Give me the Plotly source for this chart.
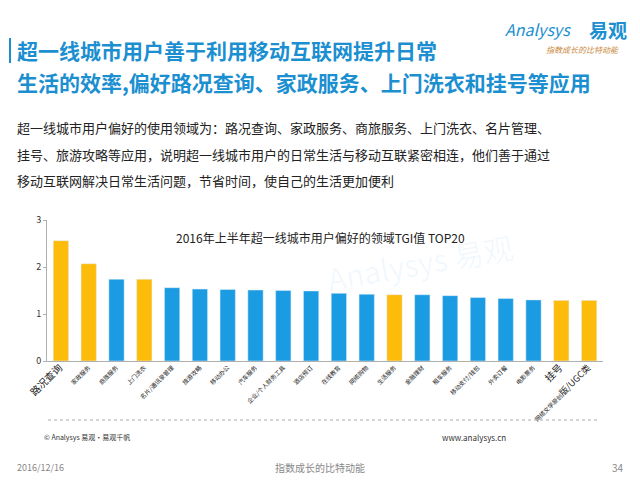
import plotly.graph_objects as go

categories = ["路况查询", "家政服务", "商旅服务", "上门洗衣", "名片/通讯录管理", "旅游攻略",
              "移动办公", "汽车服务", "企业/个人财务工具", "酒店预订", "在线教育", "网络购物",
              "生活服务", "金融理财", "租车服务", "移动支付/钱包", "外卖订餐", "电影票务",
              "挂号", "网络文学原创版/UGC类"]
values = [2.56, 2.07, 1.74, 1.74, 1.56, 1.53, 1.52, 1.51, 1.50, 1.49,
          1.44, 1.42, 1.41, 1.41, 1.39, 1.35, 1.33, 1.30, 1.29, 1.29]
highlight = [1, 1, 0, 1, 0, 0, 0, 0, 0, 0, 0, 0, 1, 0, 0, 0, 0, 0, 1, 1]
tick_labels = ['<span style="font-size:10px">路况查询</span>', "家政服务", "商旅服务", "上门洗衣",
               "名片/通讯录管理", "旅游攻略", "移动办公", "汽车服务", "企业/个人财务工具", "酒店预订",
               "在线教育", "网络购物", "生活服务", "金融理财", "租车服务", "移动支付/钱包", "外卖订餐",
               "电影票务", '<span style="font-size:10px">挂号</span>',
               '网络文学原创<span style="font-size:9px">版/UGC类</span>']
y_ticks = [0, 1, 2, 3]

YELLOW = "#FDBB0A"
BLUE = "#1A9BE2"
TITLE_BLUE = "#1C8FD0"
FONT = "Noto Sans CJK SC"

# page body has an 8px default margin; figure is placed at (8, 8)
OFF = 8
W, H = 640 - OFF, 480 - OFF
PL, PR, PT, PB = 47, 603, 220, 361  # plot area in page pixels

colors = [YELLOW if h else BLUE for h in highlight]

fig = go.Figure(go.Bar(x=categories, y=values, marker_color=colors, width=0.55))

fig.update_layout(
    width=W, height=H,
    margin=dict(l=PL - OFF, r=W - (PR - OFF), t=PT - OFF, b=H - (PB - OFF)),
    paper_bgcolor="white", plot_bgcolor="white",
    font=dict(family=FONT, color="#333"),
    showlegend=False,
)
fig.update_xaxes(
    tickmode="array", tickvals=categories, ticktext=tick_labels,
    tickangle=-45, tickfont=dict(size=6, color="#222"),
    showline=True, linecolor="#b0b0b0", linewidth=1, showgrid=False,
    ticks="", range=[-0.5, 19.5],
)
fig.update_yaxes(
    range=[0, 3], tickvals=y_ticks, showgrid=False, zeroline=False,
    showline=True, linecolor="#b0b0b0", linewidth=1,
    ticks="outside", ticklen=3, tickcolor="#b0b0b0",
    tickfont=dict(size=9, color="#333"),
)


def px(x):
    return (x - PL) / (PR - PL)


def py(y):
    return (PB - y) / (PB - PT)


def T(text, x, y, size, color, xanchor="left", bold=False, **kw):
    if bold:
        text = f"<b>{text}</b>"
    d = dict(text=text, x=px(x), y=py(y), xref="paper", yref="paper",
             xanchor=xanchor, yanchor="middle", showarrow=False,
             font=dict(family=FONT, size=size, color=color))
    d.update(kw)
    return d


ann = [
    T("超一线城市用户善于利用移动互联网提升日常", 15, 50, 21, TITLE_BLUE, bold=True),
    T("生活的效率,偏好路况查询、家政服务、上门洗衣和挂号等应用", 15, 82, 21, TITLE_BLUE, bold=True),
    T("超一线城市用户偏好的使用领域为：路况查询、家政服务、商旅服务、上门洗衣、名片管理、", 15, 128, 13, "#222"),
    T("挂号、旅游攻略等应用，说明超一线城市用户的日常生活与移动互联紧密相连，他们善于通过", 15, 154, 13, "#222"),
    T("移动互联网解决日常生活问题，节省时间，使自己的生活更加便利", 15, 180, 13, "#222"),
    T("2016年上半年超一线城市用户偏好的领域TGI值 TOP20", 320, 237, 12, "#222", xanchor="center"),
    T("<i>Analysys</i>", 503, 29, 16, TITLE_BLUE, xanchor="left"),
    T("易观", 629, 29, 19, TITLE_BLUE, xanchor="right", bold=True),
    T("<i>指数成长的比特动能</i>", 621, 49, 8, "#C8873A", xanchor="right"),
    T("Analysys 易观", 420, 262, 30, "rgba(27,155,226,0.06)", xanchor="center", textangle=-10),
    T("© Analysys 易观·易观千帆", 42, 437, 7, "#333"),
    T("www.analysys.cn", 440, 437, 8, "#333"),
    T("2016/12/16", 15, 467, 9, "#888"),
    T("指数成长的比特动能", 320, 467, 10, "#888", xanchor="center"),
    T("34", 626, 467, 10, "#888", xanchor="right"),
]
fig.update_layout(annotations=ann)

shapes = [
    dict(type="line", xref="paper", yref="paper", x0=px(10), x1=px(10),
         y0=py(38), y1=py(63), line=dict(color=TITLE_BLUE, width=2)),
    dict(type="line", xref="paper", yref="paper", x0=px(48), x1=px(600),
         y0=py(420), y1=py(420), line=dict(color="#aaa", width=1, dash="dot")),
]
fig.update_layout(shapes=shapes)

fig.write_html("out.html")
